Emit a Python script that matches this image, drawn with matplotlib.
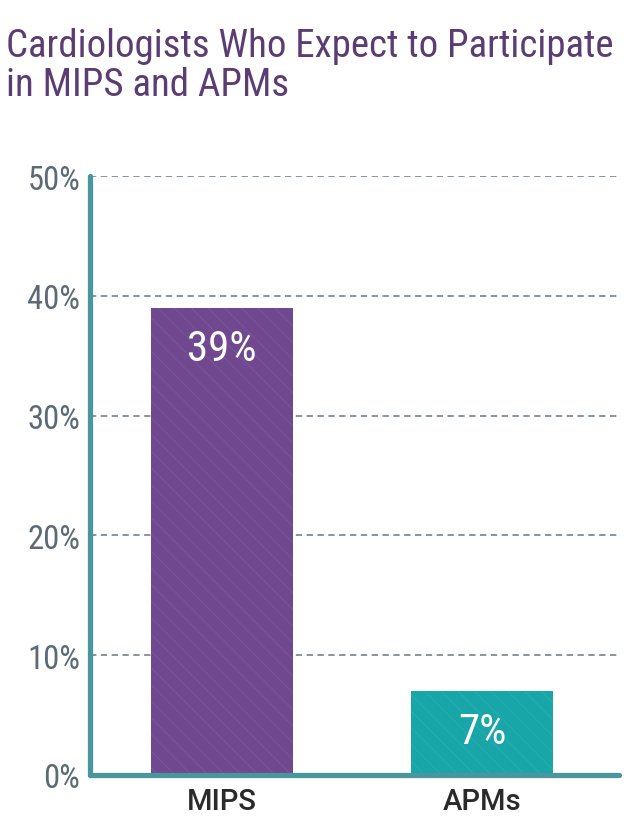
import matplotlib
matplotlib.use("Agg")
import matplotlib.pyplot as plt
from matplotlib import font_manager

categories = ["MIPS", "APMs"]
values = [39, 7]
bar_colors = ["#6f4890", "#18a6a8"]
yticks = [0, 10, 20, 30, 40, 50]
title = "Cardiologists Who Expect to Participate\nin MIPS and APMs"

names = {f.name for f in font_manager.fontManager.ttflist}
narrow = "Roboto Condensed" if "Roboto Condensed" in names else (
    "Liberation Sans Narrow" if "Liberation Sans Narrow" in names else "Roboto")
plt.rcParams["font.family"] = ["Roboto", "DejaVu Sans"]
plt.rcParams["hatch.linewidth"] = 0.5

fig = plt.figure(figsize=(6.4, 8.37), dpi=100)
ax = fig.add_axes([90 / 640, 1 - 776 / 837, 529 / 640, (776 - 177) / 837])

x = list(range(len(categories)))
bars = ax.bar(x, values, width=0.546, color=bar_colors, zorder=3,
              linewidth=0)
for b in bars:
    b.set_hatch("\\\\")
    b.set_edgecolor((1, 1, 1, 0.1))

for xi, v in zip(x, values):
    ax.text(xi, v - 3.4, f"{v}%", ha="center", va="center", color="white",
            fontsize=31, family=[narrow, "DejaVu Sans"], zorder=4)

ax.set_xlim(-0.508, 1.527)
ax.set_ylim(0, 50)
ax.set_yticks(yticks)
ax.set_yticklabels([f"{t}%" for t in yticks], family=[narrow, "DejaVu Sans"],
                   fontsize=23.5, color="#5b6b76")
ax.set_xticks(x)
ax.set_xticklabels(categories, fontsize=21, fontweight="medium",
                   color="#2a2a2a")
ax.tick_params(axis="both", length=0)
ax.tick_params(axis="y", pad=7)
ax.tick_params(axis="x", pad=9)

for t in yticks[1:]:
    ax.axhline(t, color="#7b8d97", lw=1.3, ls=(0, (3.5, 2.5)), zorder=1)

for s in ["top", "right"]:
    ax.spines[s].set_visible(False)
for s in ["left", "bottom"]:
    ax.spines[s].set_color("#4a969f")
    ax.spines[s].set_linewidth(3.8)
    ax.spines[s].set_capstyle("round")
    ax.spines[s].set_zorder(5)

fig.text(6 / 640, 1 - 28 / 837, title, ha="left", va="top", color="#5b3d74",
         fontsize=28, family=[narrow, "DejaVu Sans"], linespacing=1.08)

fig.savefig("out.png", dpi=100)
